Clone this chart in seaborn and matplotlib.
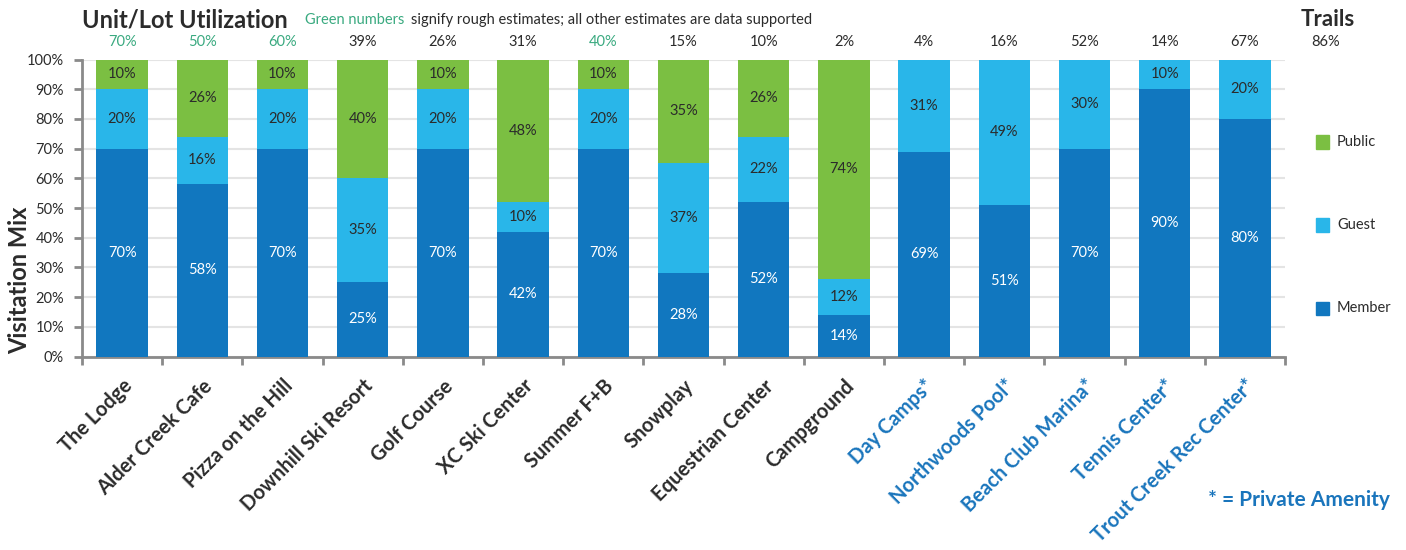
import numpy as np
import pandas as pd
import matplotlib
matplotlib.use("Agg")
import matplotlib.pyplot as plt
import seaborn as sns

categories = ["The Lodge", "Alder Creek Cafe", "Pizza on the Hill", "Downhill Ski Resort",
              "Golf Course", "XC Ski Center", "Summer F+B", "Snowplay", "Equestrian Center",
              "Campground", "Day Camps*", "Northwoods Pool*", "Beach Club Marina*",
              "Tennis Center*", "Trout Creek Rec Center*"]
member = [70, 58, 70, 25, 70, 42, 70, 28, 52, 14, 69, 51, 70, 90, 80]
guest = [20, 16, 20, 35, 20, 10, 20, 37, 22, 12, 31, 49, 30, 10, 20]
public = [10, 26, 10, 40, 10, 48, 10, 35, 26, 74, 0, 0, 0, 0, 0]
utilization = ["70%", "50%", "60%", "39%", "26%", "31%", "40%", "15%", "10%", "2%",
               "4%", "16%", "52%", "14%", "67%"]
estimate_flag = [True, True, True, False, False, False, True, False, False, False,
                 False, False, False, False, False]
private_flag = [False] * 10 + [True] * 5
trails_label = "Trails"
trails_value = "86%"
yticks = [0, 10, 20, 30, 40, 50, 60, 70, 80, 90, 100]

C_MEMBER = "#1177bf"
C_GUEST = "#29b6e9"
C_PUBLIC = "#7bbf42"
C_TEXT = "#2b2b2b"
C_GREENTXT = "#3aaa80"
C_BLUETXT = "#1a75bc"

sns.set_style("white")
plt.rcParams["font.family"] = ["Lato", "DejaVu Sans"]
HEAVY = "bold"

df = pd.DataFrame({"cat": categories, "member": member, "guest": guest, "public": public})
df["c2"] = df["member"] + df["guest"]
df["c3"] = df["c2"] + df["public"]

fig = plt.figure(figsize=(14.06, 5.5), dpi=100)
ax = fig.add_axes([82 / 1406, 1 - 356.5 / 550, (1285 - 82) / 1406, (356.5 - 59.5) / 550])

W = 0.64
sns.barplot(data=df, x="cat", y="c3", color=C_PUBLIC, saturation=1, width=W, ax=ax)
sns.barplot(data=df, x="cat", y="c2", color=C_GUEST, saturation=1, width=W, ax=ax)
sns.barplot(data=df, x="cat", y="member", color=C_MEMBER, saturation=1, width=W, ax=ax)
for p in ax.patches:
    p.set_linewidth(0)
    p.set_zorder(3)

ax.set_xlim(-0.5, len(categories) - 0.5)
ax.set_ylim(0, 100)
ax.set_yticks(yticks)
ax.set_yticklabels([f"{v}%" for v in yticks], fontsize=10.5, color=C_TEXT)
ax.yaxis.grid(True, color="#e4e4e4", lw=1.5, zorder=0)
ax.set_axisbelow(True)
ax.tick_params(axis="y", length=6, width=2, color="#8a8a8a", pad=7, left=True)

ax.set_xticks(range(len(categories)))
ax.set_xticklabels(categories, rotation=45, ha="right", rotation_mode="anchor",
                   fontsize=14.5, fontweight=HEAVY)
for lbl, priv in zip(ax.get_xticklabels(), private_flag):
    lbl.set_color(C_BLUETXT if priv else C_TEXT)
ax.tick_params(axis="x", which="major", length=0, pad=14)
ax.set_xticks(np.arange(-0.5, len(categories), 1), minor=True)
ax.tick_params(axis="x", which="minor", length=6, width=2, color="#8a8a8a", bottom=True)
ax.set_xlabel("")
ax.set_ylabel("")

for s in ["top", "right"]:
    ax.spines[s].set_visible(False)
for s in ["left", "bottom"]:
    ax.spines[s].set_color("#8a8a8a")
    ax.spines[s].set_linewidth(2)

# segment labels
for i in range(len(categories)):
    segs = [(0, member[i], "white"), (member[i], guest[i], C_TEXT),
            (member[i] + guest[i], public[i], C_TEXT)]
    for base, h, col in segs:
        if h > 0:
            ax.text(i, base + h / 2, f"{h}%", ha="center", va="center",
                    fontsize=10.5, color=col, zorder=5)

# utilization numbers above bars
trans = matplotlib.transforms.blended_transform_factory(ax.transData, fig.transFigure)
for i, (u, est) in enumerate(zip(utilization, estimate_flag)):
    ax.text(i, 1 - 42 / 550, u, transform=trans, ha="center", va="center",
            fontsize=10.5, color=C_GREENTXT if est else C_TEXT)
ax.text(15.0, 1 - 42 / 550, trails_value, transform=trans, ha="center", va="center",
        fontsize=10.5, color=C_TEXT)
ax.text(15.03, 1 - 20 / 550, trails_label, transform=trans, ha="center", va="center",
        fontsize=16, fontweight=HEAVY, color=C_TEXT)

# title
fig.text(82 / 1406, 1 - 20 / 550, "Unit/Lot Utilization", ha="left", va="center",
         fontsize=17, fontweight=HEAVY, color=C_TEXT)
fig.text(305 / 1406, 1 - 20 / 550, "Green numbers", ha="left", va="center",
         fontsize=10.5, color=C_GREENTXT)
fig.text(411 / 1406, 1 - 20 / 550, "signify rough estimates; all other estimates are data supported",
         ha="left", va="center", fontsize=10.5, color=C_TEXT)

# y label
fig.text(20 / 1406, 1 - 280 / 550, "Visitation Mix", rotation=90, ha="center", va="center",
         fontsize=17, fontweight=HEAVY, color=C_TEXT)

# legend
for name, col, yy in [("Public", C_PUBLIC, 142), ("Guest", C_GUEST, 225), ("Member", C_MEMBER, 308)]:
    fig.patches.append(matplotlib.patches.Rectangle((1316 / 1406, 1 - (yy + 6.5) / 550), 13 / 1406, 13 / 550,
                                                    transform=fig.transFigure, color=col, figure=fig))
    fig.text(1337 / 1406, 1 - yy / 550, name, ha="left", va="center", fontsize=10.5, color=C_TEXT)

fig.text(1390 / 1406, 1 - 500 / 550, "* = Private Amenity", ha="right", va="center",
         fontsize=15, fontweight=HEAVY, color=C_BLUETXT)

fig.savefig("out.png", dpi=100)
